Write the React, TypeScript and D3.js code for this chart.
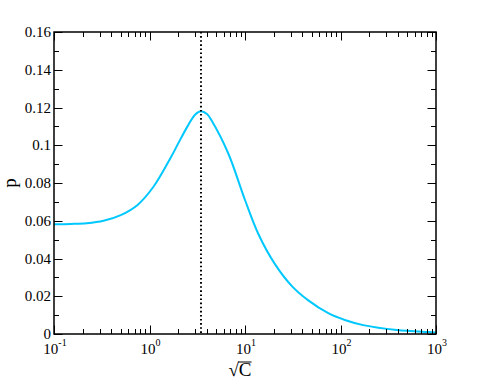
import React, { useEffect, useRef } from 'react'
import * as d3 from 'd3'

// values
const sqrtC = [0.1, 0.15, 0.22, 0.33, 0.5, 0.75, 1.1, 1.67, 2.0, 2.5, 3.0, 3.46, 4.0, 4.5, 6.7, 10, 13.8, 20.6, 30.8, 46, 74.5, 111, 173, 387, 865, 1000]
const pValues = [0.0581, 0.0583, 0.0587, 0.0600, 0.0630, 0.0684, 0.0780, 0.0935, 0.1010, 0.1100, 0.1162, 0.1180, 0.1165, 0.1128, 0.0955, 0.0710, 0.0530, 0.0370, 0.0255, 0.0178, 0.0110, 0.0074, 0.0047, 0.0021, 0.0010, 0.0008]

const peakX = 3.46
const yTicks = [0, 0.02, 0.04, 0.06, 0.08, 0.1, 0.12, 0.14, 0.16]
const yTickLabels = ['0', '0.02', '0.04', '0.06', '0.08', '0.1', '0.12', '0.14', '0.16']
const xDecades = [-1, 0, 1, 2, 3]

const W = 491
const H = 379
const margin = { left: 54, right: 55, top: 32, bottom: 45 }
const font = '"Liberation Serif", "Times New Roman", serif'

export default function App() {
  const ref = useRef<SVGSVGElement>(null)

  useEffect(() => {
    const svg = d3.select(ref.current)
    svg.selectAll('*').remove()

    const width = W - margin.left - margin.right
    const height = H - margin.top - margin.bottom

    const x = d3.scaleLog().domain([0.1, 1000]).range([0, width])
    const y = d3.scaleLinear().domain([0, 0.16]).range([height, 0])

    const g = svg.append('g')
      .attr('transform', 'translate(' + margin.left + ',' + margin.top + ')')

    g.append('clipPath').attr('id', 'plot-clip')
      .append('rect').attr('width', width).attr('height', height)

    // curve
    const line = d3.line<number>()
      .x((d, i) => x(sqrtC[i]))
      .y(d => y(d))
      .curve(d3.curveCatmullRom.alpha(0.5))

    g.append('path')
      .datum(pValues)
      .attr('d', line)
      .attr('fill', 'none')
      .attr('stroke', '#00c8ff')
      .attr('stroke-width', 2)
      .attr('clip-path', 'url(#plot-clip)')

    // dotted marker at the peak
    g.append('line')
      .attr('x1', x(peakX)).attr('x2', x(peakX))
      .attr('y1', 0).attr('y2', height)
      .attr('stroke', '#000')
      .attr('stroke-width', 2)
      .attr('stroke-dasharray', '1.6,2.5')

    // ticks on all four sides, pointing inward
    const major = 8.5
    const minor = 5
    const ticks = g.append('g').attr('stroke', '#000').attr('stroke-width', 1)

    const xMinor: number[] = []
    xDecades.slice(0, -1).forEach(k => {
      for (let m = 2; m <= 9; m++) xMinor.push(m * Math.pow(10, k))
    })
    const xMajor = xDecades.map(k => Math.pow(10, k))

    const addX = (vals: number[], len: number) => {
      vals.forEach(v => {
        const px = Math.round(x(v)) + 0.5
        ticks.append('line').attr('x1', px).attr('x2', px).attr('y1', height).attr('y2', height - len)
        ticks.append('line').attr('x1', px).attr('x2', px).attr('y1', 0).attr('y2', len)
      })
    }
    addX(xMajor, major)
    addX(xMinor, minor)

    const yMinor = yTicks.slice(0, -1).map(v => v + 0.01)
    const addY = (vals: number[], len: number) => {
      vals.forEach(v => {
        const py = Math.round(y(v)) + 0.5
        ticks.append('line').attr('x1', 0).attr('x2', len).attr('y1', py).attr('y2', py)
        ticks.append('line').attr('x1', width).attr('x2', width - len).attr('y1', py).attr('y2', py)
      })
    }
    addY(yTicks, major)
    addY(yMinor, minor)

    // frame
    g.append('rect')
      .attr('width', width).attr('height', height)
      .attr('fill', 'none')
      .attr('stroke', '#000')
      .attr('stroke-width', 1.5)

    // y tick labels
    g.selectAll('.ylab')
      .data(yTicks)
      .enter()
      .append('text')
      .attr('class', 'ylab')
      .attr('x', -3)
      .attr('y', d => y(d) + 5)
      .attr('text-anchor', 'end')
      .attr('font-family', font)
      .attr('font-size', 15)
      .text((d, i) => yTickLabels[i])

    // x tick labels, 10^k
    xDecades.forEach(k => {
      const t = g.append('text')
        .attr('x', x(Math.pow(10, k)) + 1)
        .attr('y', height + 20)
        .attr('text-anchor', 'middle')
        .attr('font-family', font)
        .attr('font-size', 15)
      t.append('tspan').text('10')
      t.append('tspan').attr('dy', -8.5).attr('font-size', 10).text(String(k))
    })

    // axis titles
    svg.append('text')
      .attr('transform', 'translate(16,' + (margin.top + height / 2) + ') rotate(-90)')
      .attr('text-anchor', 'middle')
      .attr('font-family', font)
      .attr('font-size', 19)
      .text('p')

    const xt = svg.append('text')
      .attr('x', 240)
      .attr('y', 376)
      .attr('text-anchor', 'middle')
      .attr('font-family', font)
      .attr('font-size', 19)
      .text('√C')
    const bb = (xt.node() as SVGTextElement).getBBox()
    svg.append('line')
      .attr('x1', bb.x + bb.width * 0.42).attr('x2', bb.x + bb.width)
      .attr('y1', 362).attr('y2', 362)
      .attr('stroke', '#000')
      .attr('stroke-width', 1)
  }, [])

  return (
    <svg
      ref={ref}
      width={W}
      height={H}
      style={{ position: 'absolute', left: 0, top: 0, background: '#fff' }}
    />
  )
}
